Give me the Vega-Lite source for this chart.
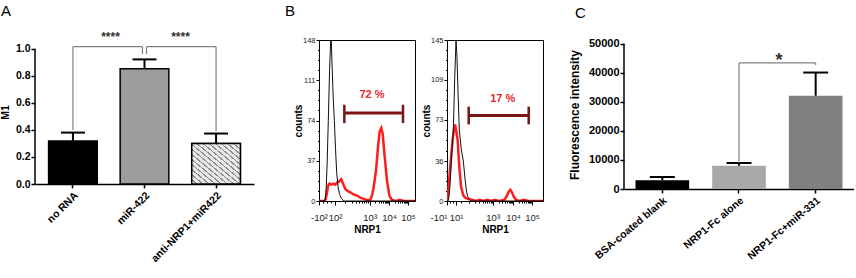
{
  "$schema": "https://vega.github.io/schema/vega-lite/v6.json",
  "padding": {"left": 0, "top": 3, "right": 0, "bottom": 0},
  "background": "#ffffff",
  "config": {
    "font": "Liberation Sans",
    "view": {"stroke": null},
    "axis": {"grid": false, "labelOverlap": false, "labelFont": "Liberation Sans", "titleFont": "Liberation Sans", "domainColor": "#000", "tickColor": "#000", "labelColor": "#000", "titleColor": "#000"},
    "title": {"font": "Liberation Sans", "fontSize": 15, "fontWeight": "normal", "color": "#000", "anchor": "start", "frame": "group"}
  },
  "resolve": {"scale": {"fill": "independent"}},
  "datasets": {
    "histL": [
      {"ch": 0, "count": 0, "series": "isotype"}, {"ch": 55, "count": 0, "series": "isotype"}, {"ch": 66, "count": 2, "series": "isotype"}, {"ch": 75, "count": 12, "series": "isotype"}, {"ch": 85, "count": 35, "series": "isotype"}, {"ch": 97, "count": 74, "series": "isotype"}, {"ch": 110, "count": 120, "series": "isotype"}, {"ch": 122, "count": 148, "series": "isotype"}, {"ch": 128, "count": 148, "series": "isotype"}, {"ch": 136, "count": 125, "series": "isotype"}, {"ch": 148, "count": 95, "series": "isotype"}, {"ch": 160, "count": 74, "series": "isotype"}, {"ch": 172, "count": 48, "series": "isotype"}, {"ch": 185, "count": 25, "series": "isotype"}, {"ch": 200, "count": 12, "series": "isotype"}, {"ch": 215, "count": 6, "series": "isotype"}, {"ch": 235, "count": 2, "series": "isotype"}, {"ch": 260, "count": 0, "series": "isotype"}, {"ch": 1000, "count": 0, "series": "isotype"},
      {"ch": 0, "count": 0, "series": "NRP1"}, {"ch": 50, "count": 0, "series": "NRP1"}, {"ch": 66, "count": 1, "series": "NRP1"}, {"ch": 80, "count": 6, "series": "NRP1"}, {"ch": 95, "count": 14, "series": "NRP1"}, {"ch": 110, "count": 16, "series": "NRP1"}, {"ch": 130, "count": 15, "series": "NRP1"}, {"ch": 150, "count": 16, "series": "NRP1"}, {"ch": 170, "count": 15, "series": "NRP1"}, {"ch": 190, "count": 17, "series": "NRP1"}, {"ch": 210, "count": 18, "series": "NRP1"}, {"ch": 232, "count": 20, "series": "NRP1"}, {"ch": 250, "count": 16, "series": "NRP1"}, {"ch": 274, "count": 11, "series": "NRP1"}, {"ch": 300, "count": 9, "series": "NRP1"}, {"ch": 326, "count": 8, "series": "NRP1"}, {"ch": 360, "count": 6, "series": "NRP1"}, {"ch": 396, "count": 5, "series": "NRP1"}, {"ch": 430, "count": 3, "series": "NRP1"}, {"ch": 465, "count": 2, "series": "NRP1"}, {"ch": 500, "count": 1, "series": "NRP1"}, {"ch": 535, "count": 1, "series": "NRP1"}, {"ch": 555, "count": 6, "series": "NRP1"}, {"ch": 570, "count": 13, "series": "NRP1"}, {"ch": 594, "count": 28, "series": "NRP1"}, {"ch": 615, "count": 50, "series": "NRP1"}, {"ch": 632, "count": 64, "series": "NRP1"}, {"ch": 649, "count": 67, "series": "NRP1"}, {"ch": 663, "count": 62, "series": "NRP1"}, {"ch": 684, "count": 41, "series": "NRP1"}, {"ch": 708, "count": 19, "series": "NRP1"}, {"ch": 733, "count": 5, "series": "NRP1"}, {"ch": 760, "count": 1, "series": "NRP1"}, {"ch": 800, "count": 0, "series": "NRP1"}, {"ch": 840, "count": 1, "series": "NRP1"}, {"ch": 880, "count": 0, "series": "NRP1"}, {"ch": 1000, "count": 0, "series": "NRP1"}
    ],
    "histR": [
      {"ch": 0, "count": 0, "series": "isotype"}, {"ch": 10, "count": 0, "series": "isotype"}, {"ch": 18, "count": 2, "series": "isotype"}, {"ch": 30, "count": 12, "series": "isotype"}, {"ch": 45, "count": 35, "series": "isotype"}, {"ch": 58, "count": 55, "series": "isotype"}, {"ch": 66, "count": 64, "series": "isotype"}, {"ch": 80, "count": 110, "series": "isotype"}, {"ch": 94, "count": 145, "series": "isotype"}, {"ch": 104, "count": 130, "series": "isotype"}, {"ch": 116, "count": 95, "series": "isotype"}, {"ch": 128, "count": 64, "series": "isotype"}, {"ch": 150, "count": 46, "series": "isotype"}, {"ch": 170, "count": 36, "series": "isotype"}, {"ch": 190, "count": 18, "series": "isotype"}, {"ch": 205, "count": 8, "series": "isotype"}, {"ch": 216, "count": 4, "series": "isotype"}, {"ch": 235, "count": 1, "series": "isotype"}, {"ch": 250, "count": 0, "series": "isotype"}, {"ch": 1000, "count": 0, "series": "isotype"},
      {"ch": 0, "count": 0, "series": "NRP1"}, {"ch": 10, "count": 5, "series": "NRP1"}, {"ch": 31, "count": 28, "series": "NRP1"}, {"ch": 45, "count": 42, "series": "NRP1"}, {"ch": 59, "count": 55, "series": "NRP1"}, {"ch": 72, "count": 64, "series": "NRP1"}, {"ch": 84, "count": 69, "series": "NRP1"}, {"ch": 95, "count": 64, "series": "NRP1"}, {"ch": 111, "count": 55, "series": "NRP1"}, {"ch": 128, "count": 31, "series": "NRP1"}, {"ch": 146, "count": 13, "series": "NRP1"}, {"ch": 170, "count": 5, "series": "NRP1"}, {"ch": 190, "count": 3, "series": "NRP1"}, {"ch": 215, "count": 2, "series": "NRP1"}, {"ch": 268, "count": 1, "series": "NRP1"}, {"ch": 300, "count": 0, "series": "NRP1"}, {"ch": 340, "count": 1, "series": "NRP1"}, {"ch": 380, "count": 0, "series": "NRP1"}, {"ch": 420, "count": 1, "series": "NRP1"}, {"ch": 460, "count": 0, "series": "NRP1"}, {"ch": 500, "count": 1, "series": "NRP1"}, {"ch": 540, "count": 0, "series": "NRP1"}, {"ch": 597, "count": 1, "series": "NRP1"}, {"ch": 620, "count": 4, "series": "NRP1"}, {"ch": 640, "count": 8, "series": "NRP1"}, {"ch": 659, "count": 10, "series": "NRP1"}, {"ch": 675, "count": 8, "series": "NRP1"}, {"ch": 695, "count": 4, "series": "NRP1"}, {"ch": 719, "count": 1, "series": "NRP1"}, {"ch": 760, "count": 0, "series": "NRP1"}, {"ch": 800, "count": 1, "series": "NRP1"}, {"ch": 850, "count": 0, "series": "NRP1"}, {"ch": 1000, "count": 0, "series": "NRP1"}
    ]
  },
  "hconcat": [
    {
      "width": 219,
      "height": 144,
      "title": {"text": "A", "dx": -34, "offset": 12},
      "data": {"values": [
        {"group": "no RNA", "mean": 0.318, "upper": 0.38},
        {"group": "miR-422", "mean": 0.852, "upper": 0.921},
        {"group": "anti-NRP1+miR422", "mean": 0.299, "upper": 0.373}
      ]},
      "layer": [
        {
          "mark": {"type": "bar", "stroke": "#000", "strokeWidth": 1.5},
          "encoding": {
            "x": {"field": "group", "type": "nominal", "sort": null,
                  "scale": {"domain": ["no RNA", "miR-422", "anti-NRP1+miR422"], "paddingInner": 0.32, "paddingOuter": 0.19},
                  "axis": {"title": null, "labelAngle": -45, "labelFontSize": 10.5, "labelFontWeight": "bold", "tickSize": 4, "tickWidth": 1.5, "domainWidth": 1.5, "labelPadding": 2}},
            "y": {"field": "mean", "type": "quantitative",
                  "scale": {"domain": [0, 1.0644], "nice": false},
                  "axis": {"title": "M1", "values": [0, 0.2, 0.4, 0.6, 0.8, 1.0], "tickCount": 100, "format": ".1f", "labelOverlap": false, "labelFontSize": 10.5, "labelFontWeight": "bold", "tickSize": 4, "tickWidth": 1.5, "domain": false, "labelPadding": 1, "titleFontSize": 10.5, "titleFontWeight": "bold", "titlePadding": 5}},
            "fill": {"field": "group", "type": "nominal", "legend": null,
                     "scale": {"domain": ["no RNA", "miR-422", "anti-NRP1+miR422"], "range": ["#000000", "#9d9d9d", "#d0d0d0"]}}
          }
        },
        {
          "transform": [{"filter": "datum.group == 'anti-NRP1+miR422'"}],
          "mark": {"type": "bar", "stroke": "#000", "strokeWidth": 1.5,
                   "fill": {"gradient": "linear", "x1": 0, "y1": 1, "x2": 1, "y2": 0, "stops": [
                     {"offset": 0, "color": "#e8e8e8"}, {"offset": 0.045, "color": "#e8e8e8"}, {"offset": 0.045, "color": "#8a8a8a"}, {"offset": 0.0625, "color": "#8a8a8a"},
                     {"offset": 0.0625, "color": "#e8e8e8"}, {"offset": 0.1075, "color": "#e8e8e8"}, {"offset": 0.1075, "color": "#8a8a8a"}, {"offset": 0.125, "color": "#8a8a8a"},
                     {"offset": 0.125, "color": "#e8e8e8"}, {"offset": 0.17, "color": "#e8e8e8"}, {"offset": 0.17, "color": "#8a8a8a"}, {"offset": 0.1875, "color": "#8a8a8a"},
                     {"offset": 0.1875, "color": "#e8e8e8"}, {"offset": 0.2325, "color": "#e8e8e8"}, {"offset": 0.2325, "color": "#8a8a8a"}, {"offset": 0.25, "color": "#8a8a8a"},
                     {"offset": 0.25, "color": "#e8e8e8"}, {"offset": 0.295, "color": "#e8e8e8"}, {"offset": 0.295, "color": "#8a8a8a"}, {"offset": 0.3125, "color": "#8a8a8a"},
                     {"offset": 0.3125, "color": "#e8e8e8"}, {"offset": 0.3575, "color": "#e8e8e8"}, {"offset": 0.3575, "color": "#8a8a8a"}, {"offset": 0.375, "color": "#8a8a8a"},
                     {"offset": 0.375, "color": "#e8e8e8"}, {"offset": 0.42, "color": "#e8e8e8"}, {"offset": 0.42, "color": "#8a8a8a"}, {"offset": 0.4375, "color": "#8a8a8a"},
                     {"offset": 0.4375, "color": "#e8e8e8"}, {"offset": 0.4825, "color": "#e8e8e8"}, {"offset": 0.4825, "color": "#8a8a8a"}, {"offset": 0.5, "color": "#8a8a8a"},
                     {"offset": 0.5, "color": "#e8e8e8"}, {"offset": 0.545, "color": "#e8e8e8"}, {"offset": 0.545, "color": "#8a8a8a"}, {"offset": 0.5625, "color": "#8a8a8a"},
                     {"offset": 0.5625, "color": "#e8e8e8"}, {"offset": 0.6075, "color": "#e8e8e8"}, {"offset": 0.6075, "color": "#8a8a8a"}, {"offset": 0.625, "color": "#8a8a8a"},
                     {"offset": 0.625, "color": "#e8e8e8"}, {"offset": 0.67, "color": "#e8e8e8"}, {"offset": 0.67, "color": "#8a8a8a"}, {"offset": 0.6875, "color": "#8a8a8a"},
                     {"offset": 0.6875, "color": "#e8e8e8"}, {"offset": 0.7325, "color": "#e8e8e8"}, {"offset": 0.7325, "color": "#8a8a8a"}, {"offset": 0.75, "color": "#8a8a8a"},
                     {"offset": 0.75, "color": "#e8e8e8"}, {"offset": 0.795, "color": "#e8e8e8"}, {"offset": 0.795, "color": "#8a8a8a"}, {"offset": 0.8125, "color": "#8a8a8a"},
                     {"offset": 0.8125, "color": "#e8e8e8"}, {"offset": 0.8575, "color": "#e8e8e8"}, {"offset": 0.8575, "color": "#8a8a8a"}, {"offset": 0.875, "color": "#8a8a8a"},
                     {"offset": 0.875, "color": "#e8e8e8"}, {"offset": 0.92, "color": "#e8e8e8"}, {"offset": 0.92, "color": "#8a8a8a"}, {"offset": 0.9375, "color": "#8a8a8a"},
                     {"offset": 0.9375, "color": "#e8e8e8"}, {"offset": 0.9825, "color": "#e8e8e8"}, {"offset": 0.9825, "color": "#8a8a8a"}, {"offset": 1, "color": "#8a8a8a"}
                   ]}},
          "encoding": {
            "x": {"field": "group", "type": "nominal"},
            "y": {"field": "mean", "type": "quantitative"}
          }
        },
        {
          "mark": {"type": "rule", "color": "#000", "strokeWidth": 2},
          "encoding": {
            "x": {"field": "group", "type": "nominal"},
            "y": {"field": "mean", "type": "quantitative"},
            "y2": {"field": "upper"}
          }
        },
        {
          "mark": {"type": "tick", "color": "#000", "size": 24, "thickness": 2, "opacity": 1},
          "encoding": {
            "x": {"field": "group", "type": "nominal"},
            "y": {"field": "upper", "type": "quantitative"}
          }
        },
        {
          "data": {"values": [{"group": "no RNA", "lo": 0, "hi": 1.0}]},
          "mark": {"type": "rule", "color": "#000", "strokeWidth": 1.5},
          "encoding": {
            "x": {"field": "group", "type": "nominal", "bandPosition": -0.2794},
            "y": {"field": "lo", "type": "quantitative"},
            "y2": {"field": "hi"}
          }
        },
        {
          "data": {"values": [{"group": "no RNA", "lo": 0.40, "hi": 1.015}, {"group": "anti-NRP1+miR422", "lo": 0.39, "hi": 1.015}]},
          "mark": {"type": "rule", "color": "#808080", "strokeWidth": 1.2},
          "encoding": {
            "x": {"field": "group", "type": "nominal"},
            "y": {"field": "lo", "type": "quantitative"},
            "y2": {"field": "hi"}
          }
        },
        {
          "data": {"values": [{"group": "miR-422", "lo": 0.96, "hi": 1.015}]},
          "mark": {"type": "rule", "color": "#808080", "strokeWidth": 1.2, "xOffset": -2},
          "encoding": {
            "x": {"field": "group", "type": "nominal"},
            "y": {"field": "lo", "type": "quantitative"},
            "y2": {"field": "hi"}
          }
        },
        {
          "data": {"values": [{"group": "miR-422", "lo": 0.96, "hi": 1.015}]},
          "mark": {"type": "rule", "color": "#808080", "strokeWidth": 1.2, "xOffset": 2},
          "encoding": {
            "x": {"field": "group", "type": "nominal"},
            "y": {"field": "lo", "type": "quantitative"},
            "y2": {"field": "hi"}
          }
        },
        {
          "data": {"values": [{"group": "no RNA", "group2": "miR-422", "lo": 1.015}]},
          "mark": {"type": "rule", "color": "#808080", "strokeWidth": 1.2, "x2Offset": -2},
          "encoding": {
            "x": {"field": "group", "type": "nominal"},
            "x2": {"field": "group2"},
            "y": {"field": "lo", "type": "quantitative"}
          }
        },
        {
          "data": {"values": [{"group": "miR-422", "group2": "anti-NRP1+miR422", "lo": 1.015}]},
          "mark": {"type": "rule", "color": "#808080", "strokeWidth": 1.2, "xOffset": 2},
          "encoding": {
            "x": {"field": "group", "type": "nominal"},
            "x2": {"field": "group2"},
            "y": {"field": "lo", "type": "quantitative"}
          }
        },
        {
          "data": {"values": [{"group": "miR-422", "lo": 1.09, "label": "****"}]},
          "mark": {"type": "text", "dx": -34, "fontSize": 12, "fontWeight": "bold", "color": "#333", "baseline": "middle"},
          "encoding": {
            "x": {"field": "group", "type": "nominal"},
            "y": {"field": "lo", "type": "quantitative"},
            "text": {"field": "label"}
          }
        },
        {
          "data": {"values": [{"group": "miR-422", "lo": 1.09, "label": "****"}]},
          "mark": {"type": "text", "dx": 36, "fontSize": 12, "fontWeight": "bold", "color": "#333", "baseline": "middle"},
          "encoding": {
            "x": {"field": "group", "type": "nominal"},
            "y": {"field": "lo", "type": "quantitative"},
            "text": {"field": "label"}
          }
        }
      ]
    },
    {
      "width": 1, "height": 10,
      "data": {"values": [{"v": 0}]},
      "mark": {"type": "point", "opacity": 0},
      "encoding": {}
    },
    {
      "width": 96,
      "height": 161,
      "view": {"stroke": "#000", "strokeWidth": 1},
      "title": {"text": "B", "dx": -34, "offset": 17},
      "layer": [
        {
          "data": {"name": "histL"},
          "transform": [{"filter": "datum.series == 'NRP1'"}],
          "mark": {"type": "line", "color": "#ff1c1c", "strokeWidth": 2.5, "clip": true},
          "encoding": {
            "x": {"field": "ch", "type": "quantitative",
                  "scale": {"domain": [0, 1000], "nice": false, "zero": false},
                  "axis": {"title": "NRP1", "titleFontSize": 10, "titleFontWeight": "bold", "titlePadding": 3,
                           "values": [0, 40, 80, 120, 167, 276, 339, 384, 419, 448, 472, 493, 511, 528, 588, 624, 649, 668, 684, 698, 710, 720, 729, 789, 823, 848, 867, 883, 896, 908, 918, 927],
                           "tickCount": 100,
                           "labelExpr": "datum.value == 0 ? '-10²' : datum.value == 167 ? '10²' : datum.value == 528 ? '10³' : datum.value == 729 ? '10⁴' : datum.value == 927 ? '10⁵' : ''",
                           "labelFontSize": 9.5, "labelColor": "#222", "labelFlush": false, "labelOverlap": false, "labelBound": false, "labelPadding": 7,
                           "tickSize": {"condition": {"test": "indexof([0,167,528,729,927], datum.value) >= 0", "value": 4}, "value": 2},
                           "tickWidth": 1, "domain": false}},
            "y": {"field": "count", "type": "quantitative",
                  "scale": {"domain": [0, 148], "nice": false},
                  "axis": {"title": "counts", "titleFontSize": 10, "titleFontWeight": "bold", "titlePadding": -1,
                           "values": [0, 9.25, 18.5, 27.75, 37, 46.25, 55.5, 64.75, 74, 83.25, 92.5, 101.75, 111, 120.25, 129.5, 138.75, 148],
                           "tickCount": 100,
                           "labelExpr": "indexof([0,37,74,111,148], datum.value) >= 0 ? datum.label : ''",
                           "format": "d", "labelFontSize": 7.5, "labelColor": "#222", "labelPadding": 1, "labelOverlap": false,
                           "tickSize": {"condition": {"test": "indexof([0,37,74,111,148], datum.value) >= 0", "value": 3}, "value": 1.5},
                           "tickWidth": 1, "domain": false}}
          }
        },
        {
          "data": {"name": "histL"},
          "transform": [{"filter": "datum.series == 'isotype'"}],
          "mark": {"type": "line", "color": "#111", "strokeWidth": 1, "clip": true},
          "encoding": {
            "x": {"field": "ch", "type": "quantitative"},
            "y": {"field": "count", "type": "quantitative"}
          }
        },
        {
          "data": {"values": [{"ch": 264, "ch2": 875, "count": 80.8}]},
          "mark": {"type": "rule", "color": "#7b1414", "strokeWidth": 3},
          "encoding": {
            "x": {"field": "ch", "type": "quantitative"},
            "x2": {"field": "ch2"},
            "y": {"field": "count", "type": "quantitative"}
          }
        },
        {
          "data": {"values": [{"ch": 264, "count": 71.6, "count2": 88.5}, {"ch": 875, "count": 71.6, "count2": 88.5}]},
          "mark": {"type": "rule", "color": "#7b1414", "strokeWidth": 2.5},
          "encoding": {
            "x": {"field": "ch", "type": "quantitative"},
            "y": {"field": "count", "type": "quantitative"},
            "y2": {"field": "count2"}
          }
        },
        {
          "data": {"values": [{"ch": 552, "count": 97, "label": "72 %"}]},
          "mark": {"type": "text", "color": "#e8282c", "fontSize": 11, "fontWeight": "bold", "baseline": "middle"},
          "encoding": {
            "x": {"field": "ch", "type": "quantitative"},
            "y": {"field": "count", "type": "quantitative"},
            "text": {"field": "label"}
          }
        }
      ]
    },
    {
      "width": 96,
      "height": 161,
      "view": {"stroke": "#000", "strokeWidth": 1},
      "layer": [
        {
          "data": {"name": "histR"},
          "transform": [{"filter": "datum.series == 'NRP1'"}],
          "mark": {"type": "line", "color": "#ff1c1c", "strokeWidth": 2.5, "clip": true},
          "encoding": {
            "x": {"field": "ch", "type": "quantitative",
                  "scale": {"domain": [0, 1000], "nice": false, "zero": false},
                  "axis": {"title": "NRP1", "titleFontSize": 10, "titleFontWeight": "bold", "titlePadding": 3,
                           "values": [0, 30, 60, 94, 150, 230, 290, 330, 370, 400, 420, 440, 455, 466, 476, 540, 577, 604, 624, 641, 655, 667, 678, 688, 747, 782, 807, 826, 841, 854, 866, 876, 885],
                           "tickCount": 100,
                           "labelExpr": "datum.value == 0 ? '-10¹' : datum.value == 94 ? '10¹' : datum.value == 476 ? '10³' : datum.value == 688 ? '10⁴' : datum.value == 885 ? '10⁵' : ''",
                           "labelAlign": {"condition": {"test": "datum.value == 0", "value": "right"}, "value": "center"},
                           "labelFontSize": 9.5, "labelColor": "#222", "labelFlush": false, "labelOverlap": false, "labelBound": false, "labelPadding": 7,
                           "tickSize": {"condition": {"test": "indexof([0,94,476,688,885], datum.value) >= 0", "value": 4}, "value": 2},
                           "tickWidth": 1, "domain": false}},
            "y": {"field": "count", "type": "quantitative",
                  "scale": {"domain": [0, 145], "nice": false},
                  "axis": {"title": "counts", "titleFontSize": 10, "titleFontWeight": "bold", "titlePadding": -1,
                           "values": [0, 9, 18, 27, 36, 45.25, 54.5, 63.75, 73, 82, 91, 100, 109, 118, 127, 136, 145],
                           "tickCount": 100,
                           "labelExpr": "indexof([0,36,73,109,145], datum.value) >= 0 ? datum.label : ''",
                           "format": "d", "labelFontSize": 7.5, "labelColor": "#222", "labelPadding": 1, "labelOverlap": false,
                           "tickSize": {"condition": {"test": "indexof([0,36,73,109,145], datum.value) >= 0", "value": 3}, "value": 1.5},
                           "tickWidth": 1, "domain": false}}
          }
        },
        {
          "data": {"name": "histR"},
          "transform": [{"filter": "datum.series == 'isotype'"}],
          "mark": {"type": "line", "color": "#111", "strokeWidth": 1, "clip": true},
          "encoding": {
            "x": {"field": "ch", "type": "quantitative"},
            "y": {"field": "count", "type": "quantitative"}
          }
        },
        {
          "data": {"values": [{"ch": 226, "ch2": 851, "count": 77}]},
          "mark": {"type": "rule", "color": "#7b1414", "strokeWidth": 3},
          "encoding": {
            "x": {"field": "ch", "type": "quantitative"},
            "x2": {"field": "ch2"},
            "y": {"field": "count", "type": "quantitative"}
          }
        },
        {
          "data": {"values": [{"ch": 226, "count": 69, "count2": 85}, {"ch": 851, "count": 69, "count2": 85}]},
          "mark": {"type": "rule", "color": "#7b1414", "strokeWidth": 2.5},
          "encoding": {
            "x": {"field": "ch", "type": "quantitative"},
            "y": {"field": "count", "type": "quantitative"},
            "y2": {"field": "count2"}
          }
        },
        {
          "data": {"values": [{"ch": 580, "count": 92, "label": "17 %"}]},
          "mark": {"type": "text", "color": "#e8282c", "fontSize": 11, "fontWeight": "bold", "baseline": "middle"},
          "encoding": {
            "x": {"field": "ch", "type": "quantitative"},
            "y": {"field": "count", "type": "quantitative"},
            "text": {"field": "label"}
          }
        }
      ]
    },
    {
      "width": 17, "height": 10,
      "data": {"values": [{"v": 0}]},
      "mark": {"type": "point", "opacity": 0},
      "encoding": {}
    },
    {
      "width": 230,
      "height": 149,
      "title": {"text": "C", "dx": -49, "offset": 17},
      "data": {"values": [
        {"group": "BSA-coated blank", "mean": 3000, "upper": 4100},
        {"group": "NRP1-Fc alone", "mean": 8000, "upper": 8950},
        {"group": "NRP1-Fc+miR-331", "mean": 32100, "upper": 40100}
      ]},
      "layer": [
        {
          "mark": {"type": "bar"},
          "encoding": {
            "x": {"field": "group", "type": "nominal", "sort": null,
                  "scale": {"domain": ["BSA-coated blank", "NRP1-Fc alone", "NRP1-Fc+miR-331"], "paddingInner": 0.3, "paddingOuter": 0.15},
                  "axis": {"title": null, "labelAngle": -40, "labelFontSize": 10.5, "labelFontWeight": "bold", "tickSize": 4, "tickWidth": 1.5, "domainWidth": 1.5, "labelPadding": 2}},
            "y": {"field": "mean", "type": "quantitative",
                  "scale": {"domain": [0, 51300], "nice": false},
                  "axis": {"title": "Fluorescence intensity", "values": [0, 10000, 20000, 30000, 40000, 50000], "tickCount": 100, "format": "d", "labelOverlap": false, "labelFontSize": 11, "labelFontWeight": "bold", "tickSize": 4, "tickWidth": 1.5, "domain": false, "labelPadding": 1, "titleFontSize": 12, "titleFontWeight": "bold", "titlePadding": 7}},
            "fill": {"field": "group", "type": "nominal", "legend": null,
                     "scale": {"domain": ["BSA-coated blank", "NRP1-Fc alone", "NRP1-Fc+miR-331"], "range": ["#000000", "#a8a8a8", "#808080"]}}
          }
        },
        {
          "mark": {"type": "rule", "color": "#000", "strokeWidth": 2},
          "encoding": {
            "x": {"field": "group", "type": "nominal"},
            "y": {"field": "mean", "type": "quantitative"},
            "y2": {"field": "upper"}
          }
        },
        {
          "mark": {"type": "tick", "color": "#000", "size": 25, "thickness": 2, "opacity": 1},
          "encoding": {
            "x": {"field": "group", "type": "nominal"},
            "y": {"field": "upper", "type": "quantitative"}
          }
        },
        {
          "data": {"values": [{"group": "BSA-coated blank", "lo": 0, "hi": 50000}]},
          "mark": {"type": "rule", "color": "#000", "strokeWidth": 1.5},
          "encoding": {
            "x": {"field": "group", "type": "nominal", "bandPosition": -0.2143},
            "y": {"field": "lo", "type": "quantitative"},
            "y2": {"field": "hi"}
          }
        },
        {
          "data": {"values": [{"group": "NRP1-Fc alone", "lo": 9600, "hi": 43400}, {"group": "NRP1-Fc+miR-331", "lo": 42700, "hi": 43400}]},
          "mark": {"type": "rule", "color": "#808080", "strokeWidth": 1.2},
          "encoding": {
            "x": {"field": "group", "type": "nominal"},
            "y": {"field": "lo", "type": "quantitative"},
            "y2": {"field": "hi"}
          }
        },
        {
          "data": {"values": [{"group": "NRP1-Fc alone", "group2": "NRP1-Fc+miR-331", "lo": 43400}]},
          "mark": {"type": "rule", "color": "#808080", "strokeWidth": 1.2},
          "encoding": {
            "x": {"field": "group", "type": "nominal"},
            "x2": {"field": "group2"},
            "y": {"field": "lo", "type": "quantitative"}
          }
        },
        {
          "data": {"values": [{"group": "NRP1-Fc alone", "lo": 44200, "label": "*"}]},
          "mark": {"type": "text", "dx": 40, "fontSize": 18, "fontWeight": "bold", "color": "#333", "baseline": "middle"},
          "encoding": {
            "x": {"field": "group", "type": "nominal"},
            "y": {"field": "lo", "type": "quantitative"},
            "text": {"field": "label"}
          }
        }
      ]
    }
  ],
  "spacing": 32,
  "bounds": "flush"
}
